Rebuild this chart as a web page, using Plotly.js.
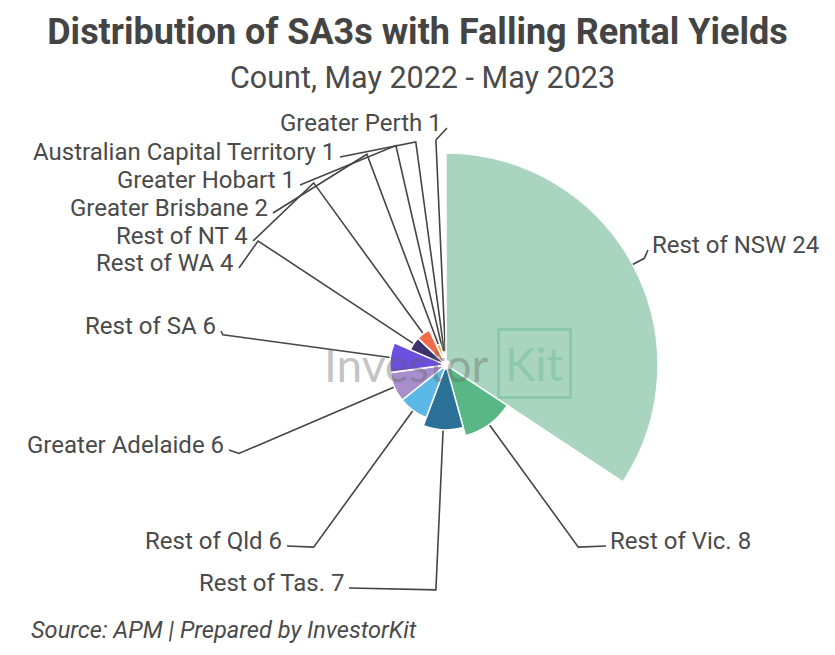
<!DOCTYPE html>
<html><head><meta charset="utf-8">
<script src="https://cdn.plot.ly/plotly-3.0.1.min.js"></script>
<style>html,body{margin:0;padding:0;background:#fff}</style>
</head><body><div id="chart" style="width:835px;height:655px"></div>
<script>
// ---- data ----
const categories = ['Rest of NSW', 'Rest of Vic.', 'Rest of Tas.', 'Rest of Qld', 'Greater Adelaide', 'Rest of SA',
  'Rest of WA', 'Rest of NT', 'Greater Brisbane', 'Greater Hobart', 'Australian Capital Territory', 'Greater Perth'];
const counts = [24, 8, 7, 6, 6, 6, 4, 4, 2, 1, 1, 1];

// ---- styles / layout ----
const colors = ['#a8d4c0', '#58b784', '#2a7097', '#5cb8e6', '#a88ecd', '#6a4fe0', '#3d3170', '#f26a48',
  '#f5b041', '#e8e26a', '#8fd3e8', '#d46fa8'];
// label text placement in page pixels (edge x, centre y) and which side of the text the edge is
const labelX = [650, 608, 346, 284, 226, 218, 236, 250, 270, 297, 337, 444];
const labelY = [245, 541, 583, 541, 445, 326, 263, 236, 208, 180, 152, 123];
const labelAnchor = ['left', 'left', 'right', 'right', 'right', 'right', 'right', 'right', 'right', 'right', 'right', 'right'];

const W = 835, H = 655;
const CX = 446, CY = 365, R = 212;      // polar centre and outer radius in px
const HOLE = 0.02;
const LEADER = 1.062;                    // radial leader end, fraction of R
const total = counts.reduce((a, b) => a + b, 0);
const rmax = Math.max(...counts);

const widths = counts.map(v => v / total * 360);
const mids = [];
let acc = 0;
counts.forEach((v, i) => { mids.push(acc + widths[i] / 2); acc += widths[i]; });

function toPx(rho, deg) {
  const t = deg * Math.PI / 180;
  return [CX + rho * Math.sin(t), CY - rho * Math.cos(t)];
}
function rPx(v) { return R * (HOLE + (1 - HOLE) * v / rmax); }

const lx = [], ly = [];
const annotations = [];
categories.forEach((c, i) => {
  const p0 = toPx(rPx(counts[i]), mids[i]);
  const p1 = toPx(R * LEADER, mids[i]);
  const left = labelAnchor[i] === 'left';
  const p2 = [labelX[i] + (left ? -2 : 3), labelY[i] + 5];
  lx.push(p0[0], p1[0], p2[0], null);
  ly.push(p0[1], p1[1], p2[1], null);
  annotations.push({
    xref: 'x', yref: 'y', x: labelX[i], y: labelY[i], xanchor: labelAnchor[i], yanchor: 'middle',
    text: c + ' ' + counts[i], showarrow: false,
    font: {family: 'Roboto', size: 24, color: '#4a4a4a'}
  });
});

annotations.push(
  {xref: 'paper', yref: 'paper', x: 422 / W, y: 1 - 77 / H, xanchor: 'center', yanchor: 'middle',
   text: 'Count, May 2022 - May 2023', showarrow: false, font: {family: 'Roboto', size: 30.5, color: '#4a4a4a'}},
  {xref: 'paper', yref: 'paper', x: 29 / W, y: 1 - 630 / H, xanchor: 'left', yanchor: 'middle',
   text: '<i>Source: APM | Prepared by InvestorKit</i>', showarrow: false,
   font: {family: 'Roboto', size: 23.6, color: '#4a4a4a'}},
  {xref: 'x', yref: 'y', x: 406, y: 364, xanchor: 'center', yanchor: 'middle', text: 'Investor', showarrow: false,
   font: {family: 'Lato', size: 46, color: 'rgba(100,100,100,0.4)'}},
  {xref: 'x', yref: 'y', x: 534, y: 363, xanchor: 'center', yanchor: 'middle', text: 'Kit', showarrow: false,
   font: {family: 'Lato', size: 46, color: 'rgba(80,180,125,0.33)'},
   bordercolor: 'rgba(80,180,125,0.33)', borderwidth: 3, borderpad: 5}
);

const traces = [
  {
    type: 'barpolar', r: counts, theta: mids, width: widths, text: categories,
    marker: {color: colors, line: {color: '#ffffff', width: 1.5}},
    hoverinfo: 'text+r', showlegend: false
  },
  {
    type: 'scatter', x: lx, y: ly, mode: 'lines', xaxis: 'x', yaxis: 'y',
    line: {color: '#454545', width: 1.6}, hoverinfo: 'skip', showlegend: false
  }
];

const layout = {
  width: W, height: H,
  margin: {l: 0, r: 0, t: 0, b: 0},
  paper_bgcolor: '#ffffff', plot_bgcolor: 'rgba(0,0,0,0)',
  title: {text: '<b>Distribution of SA3s with Falling Rental Yields</b>', x: 0.5, xanchor: 'center',
          y: 1 - 31 / H, yanchor: 'middle', yref: 'container',
          font: {family: 'Roboto', size: 36, color: '#444444'}},
  xaxis: {domain: [0, 1], range: [0, W], visible: false, fixedrange: true},
  yaxis: {domain: [0, 1], range: [H, 0], visible: false, fixedrange: true},
  polar: {
    domain: {x: [(CX - R) / W, (CX + R) / W], y: [(H - CY - R) / H, (H - CY + R) / H]},
    bgcolor: 'rgba(0,0,0,0)', hole: HOLE,
    radialaxis: {range: [0, rmax], visible: false, showgrid: false},
    angularaxis: {rotation: 90, direction: 'clockwise', visible: false, showgrid: false}
  },
  annotations: annotations
};

Plotly.newPlot('chart', traces, layout, {displayModeBar: false, staticPlot: true});
</script>
</body></html>
